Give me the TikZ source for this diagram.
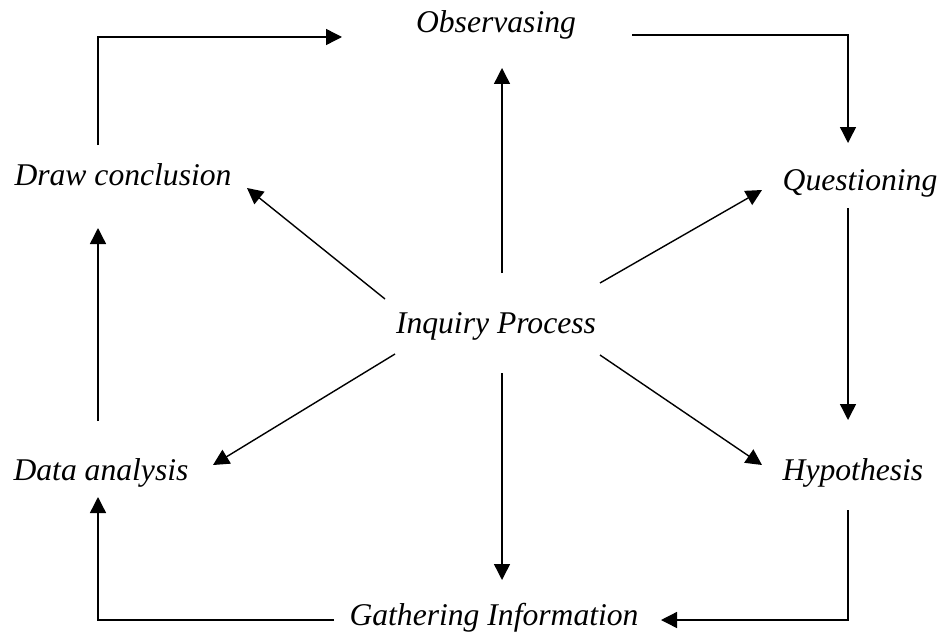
\documentclass[tikz,border=0pt]{standalone}
\usepackage{fontspec}
\setmainfont{Liberation Serif}
\usetikzlibrary{arrows.meta, calc}

\begin{document}
\begin{tikzpicture}[
    x=0.02cm, y=-0.02cm,
    stage/.style={
        inner sep=0pt, anchor=base, align=center,
        font=\fontsize{18}{21}\selectfont\itshape
    },
    flow/.style={-{Triangle[length=0.32cm, width=0.32cm]}, line width=0.8pt}
]
\useasboundingbox (0,0) rectangle (945,635);

% 1. Centre of the cycle
\node[stage] (inquiry) at (496,333) {Inquiry Process};

% 2. The six stages round it (placed on their baselines)
\node[stage] (observe) at (496,33) {Observasing};
\node[stage] (question) at (860,190) {Questioning};
\node[stage] (hypo) at (853,480) {Hypothesis};
\node[stage] (gather) at (494,625) {Gathering Information};
\node[stage] (analysis) at (101,480) {Data analysis};
\node[stage] (conclude) at (123,185) {Draw conclusion};

% 3. Spokes from the centre out to each stage
\draw[flow] ($(inquiry.base)+(6,-60)$) -- ($(observe.base)+(6,35)$);
\draw[flow] ($(inquiry.base)+(104,-50)$) -- ($(question.base)+(-98,0)$);
\draw[flow] ($(inquiry.base)+(104,22)$) -- ($(hypo.base)+(-91,-15)$);
\draw[flow] ($(inquiry.base)+(6,40)$) -- ($(gather.base)+(8,-45)$);
\draw[flow] ($(inquiry.base)+(-101,21)$) -- ($(analysis.base)+(112,-15)$);
\draw[flow] ($(inquiry.base)+(-111,-34)$) -- ($(conclude.base)+(124,3)$);

% 4. The outer loop, stage to stage (elbow paths)
\draw[flow] ($(observe.base)+(136,2)$) -| ($(question.base)+(-12,-47)$);
\draw[flow] ($(question.base)+(-12,18)$) -- ($(hypo.base)+(-5,-60)$);
\draw[flow] ($(hypo.base)+(-5,30)$) |- ($(gather.base)+(167,-5)$);
\draw[flow] ($(gather.base)+(-160,-5)$) -| ($(analysis.base)+(-3,17)$);
\draw[flow] ($(analysis.base)+(-3,-59)$) -- ($(conclude.base)+(-25,43)$);
\draw[flow] ($(conclude.base)+(-25,-40)$) |- ($(observe.base)+(-154,4)$);

\end{tikzpicture}
\end{document}
